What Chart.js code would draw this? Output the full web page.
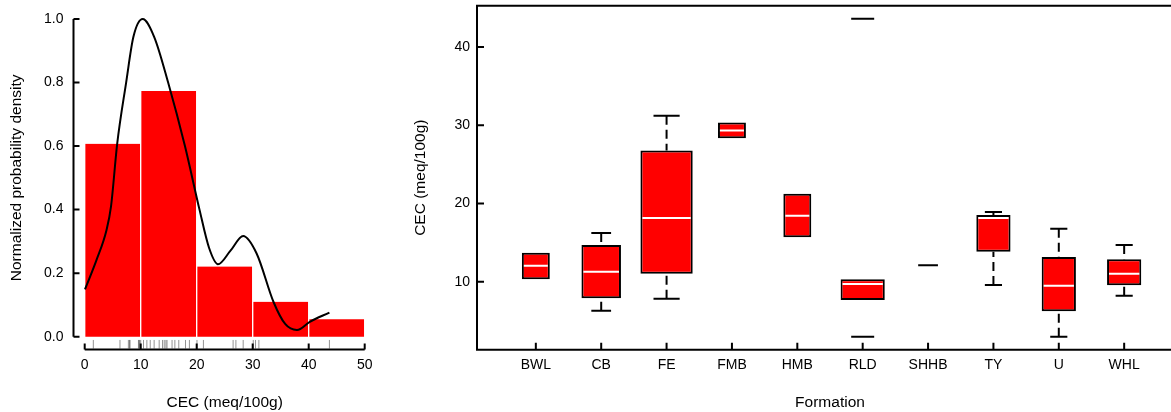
<!DOCTYPE html>
<html>
<head>
<meta charset="utf-8">
<script src="https://cdn.jsdelivr.net/npm/chart.js@4.4.0/dist/chart.umd.min.js"></script>
<style>
  html, body { margin: 0; padding: 0; background: #fff; overflow: hidden; }
  #histWrap { position: absolute; left: 0; top: 0; }
  #boxWrap { position: absolute; left: 385px; top: 0; }
</style>
</head>
<body>
<div id="histWrap"><canvas id="histChart" width="385" height="412"></canvas></div>
<div id="boxWrap"><canvas id="boxChart" width="810" height="412"></canvas></div>
<script>
// --- left panel: histogram of CEC (bins of 10) ---
const binMids = [5, 15, 25, 35, 45];
const binDensity = [0.607, 0.773, 0.221, 0.110, 0.055];

// kernel density curve (peak normalised to 1)
const densityX = [0.05, 2.1, 3.9, 4.7, 5.8, 7.4, 8.7, 10.35, 12.4, 14.9, 17.9, 20.5, 22.2, 23.8, 26.0, 28.3, 30.7, 33.7, 35.8, 37.9, 40.2, 43.7];
const densityY = [0.149, 0.241, 0.336, 0.41, 0.607, 0.80, 0.944, 1.0, 0.944, 0.80, 0.60, 0.40, 0.28, 0.228, 0.27, 0.317, 0.262, 0.11, 0.04, 0.021, 0.047, 0.076];

// individual samples (rug)
const rugValues = [1.54, 6.3, 7.8, 8.0, 8.1, 9.6, 9.7, 9.8, 10.0, 10.5, 11.1, 11.7, 12.4, 13.3, 13.9, 14.2, 14.5, 14.7,
  15.6, 16.1, 16.8, 18.0, 18.7, 20.05, 21.2, 26.5, 27.0, 28.3, 30.1, 30.5, 31.1, 43.7];

const histXTicks = [0, 10, 20, 30, 40, 50];
const histYTicks = [0, 0.2, 0.4, 0.6, 0.8, 1.0];

// --- right panel: CEC by formation ---
const formations = ['BWL', 'CB', 'FE', 'FMB', 'HMB', 'RLD', 'SHHB', 'TY', 'U', 'WHL'];
const sampleCount = [2, 4, 7, 2, 2, 5, 1, 3, 3, 3];
const whiskerLow  = [10.3, 6.30, 7.83, 28.35, 15.67, 7.66, 12.1, 9.58, 2.98, 8.21];
const boxLow      = [10.3, 7.88, 11.02, 28.35, 15.67, 7.66, 12.1, 13.83, 6.22, 9.54];
const medians     = [12.04, 11.28, 18.14, 29.34, 18.43, 9.71, 12.1, 18.14, 9.49, 11.02];
const boxHigh     = [13.7, 14.69, 26.78, 30.36, 21.24, 10.3, 12.1, 18.52, 13.15, 12.86];
const whiskerHigh = [13.7, 16.22, 31.2, 30.36, 21.24, 10.3, 12.1, 18.9, 16.77, 14.69];
const outlierGroup = ['RLD', 'RLD'];
const outlierValues = [43.6, 2.98];
const boxYTicks = [10, 20, 30, 40];

Chart.defaults.font.family = '"Liberation Sans", Arial, sans-serif';
Chart.defaults.color = '#000';
Chart.defaults.animation = false;

// R-style axes: lines + inward ticks
const axisFrame = {
  id: 'axisFrame',
  afterDatasetsDraw(chart, args, opts) {
    const { ctx, chartArea: a, scales: { x, y } } = chart;
    ctx.save();
    ctx.strokeStyle = '#000';
    ctx.lineWidth = 2;
    ctx.beginPath();
    if (opts.box) {
      ctx.rect(a.left, a.top, a.right - a.left, a.bottom - a.top);
    } else {
      const xt = x.ticks, yt = y.ticks;
      ctx.moveTo(x.getPixelForValue(xt[0].value), a.bottom);
      ctx.lineTo(x.getPixelForValue(xt[xt.length - 1].value), a.bottom);
      ctx.moveTo(a.left, y.getPixelForValue(yt[0].value));
      ctx.lineTo(a.left, y.getPixelForValue(yt[yt.length - 1].value));
    }
    x.ticks.forEach(t => {
      const px = x.getPixelForValue(t.value);
      ctx.moveTo(px, a.bottom);
      ctx.lineTo(px, a.bottom - opts.tick);
    });
    y.ticks.forEach(t => {
      const py = y.getPixelForValue(t.value);
      ctx.moveTo(a.left, py);
      ctx.lineTo(a.left + opts.tick, py);
    });
    ctx.stroke();
    ctx.restore();
  }
};

const tickFont = { size: 14 };
const titleFont = { size: 15.5 };

// fixed plot margins, no label padding
const fixWidth = w => s => { s.width = w; s.paddingTop = 0; s.paddingBottom = 0; };
const fixHeight = h => s => { s.height = h; s.paddingLeft = 0; s.paddingRight = 0; };

// ---------- histogram ----------
const histYMin = -0.04, histYMax = 1.04;
const rugY = histYMin + 0.03 * (histYMax - histYMin) / 2;

new Chart(document.getElementById('histChart'), {
  type: 'bar',
  data: {
    datasets: [
      {
        type: 'line',
        data: densityX.map((x, i) => ({ x, y: densityY[i] })),
        borderColor: '#000',
        borderWidth: 2,
        pointRadius: 0,
        cubicInterpolationMode: 'monotone',
        fill: false
      },
      {
        type: 'scatter',
        data: rugValues.map(x => ({ x, y: rugY })),
        pointStyle: 'line',
        rotation: 90,
        radius: 4.3,
        borderWidth: 1,
        borderColor: 'rgba(60,60,60,0.55)'
      },
      {
        type: 'bar',
        data: binMids.map((x, i) => ({ x, y: binDensity[i] })),
        backgroundColor: '#ff0000',
        borderColor: '#ffffff',
        borderWidth: { left: 1, right: 1, top: 0, bottom: 0 },
        borderSkipped: false,
        barPercentage: 1,
        categoryPercentage: 1
      }
    ]
  },
  options: {
    responsive: false,
    layout: { autoPadding: false, padding: { top: 6.3, right: 9.1, left: 0, bottom: 0 } },
    plugins: { legend: { display: false }, tooltip: { enabled: false }, axisFrame: { box: false, tick: 6 } },
    scales: {
      x: {
        type: 'linear', min: -2, max: 52, offset: false,
        grid: { display: false, drawTicks: false }, border: { display: false },
        afterBuildTicks: s => { s.ticks = histXTicks.map(v => ({ value: v })); },
        afterFit: fixHeight(62.6),
        ticks: { font: tickFont, padding: 7, maxRotation: 0, callback: v => String(v) },
        title: { display: true, text: 'CEC (meq/100g)', font: titleFont, padding: { top: 0, bottom: 0 } }
      },
      y: {
        type: 'linear', min: histYMin, max: histYMax,
        grid: { display: false, drawTicks: false }, border: { display: false },
        afterBuildTicks: s => { s.ticks = histYTicks.map(v => ({ value: v })); },
        afterFit: fixWidth(73.5),
        ticks: { font: tickFont, padding: 10, callback: v => v.toFixed(1) },
        title: { display: true, text: 'Normalized probability density', font: titleFont, padding: { top: 7.4, bottom: 0 } }
      }
    }
  },
  plugins: [axisFrame]
});

// ---------- boxplot ----------
const maxN = Math.max(...sampleCount);
const boxFrac = sampleCount.map(n => 0.8 * Math.sqrt(n / maxN)); // varwidth boxes

const medianPts = [], flatPts = [], capPts = [], whiskerPts = [];
formations.forEach((f, i) => {
  const c = i + 1, hw = boxFrac[i] / 2;
  if (boxLow[i] === boxHigh[i]) {
    flatPts.push({ x: c - hw, y: medians[i] }, { x: c + hw, y: medians[i] }, { x: c, y: null });
  } else {
    medianPts.push({ x: c - hw + 0.03, y: medians[i] }, { x: c + hw - 0.03, y: medians[i] }, { x: c, y: null });
  }
  [[whiskerLow[i], boxLow[i]], [whiskerHigh[i], boxHigh[i]]].forEach(([end, hinge]) => {
    if (end === hinge) return;
    whiskerPts.push({ x: c, y: end }, { x: c, y: hinge }, { x: c, y: null });
    capPts.push({ x: c - hw / 2, y: end }, { x: c + hw / 2, y: end }, { x: c, y: null });
  });
});

const boxSets = [];
formations.forEach((f, i) => {
  if (boxLow[i] === boxHigh[i]) return;
  boxSets.push({
    type: 'bar',
    data: [{ x: i + 1, y: [boxLow[i], boxHigh[i]] }],
    backgroundColor: '#ff0000',
    borderColor: '#000',
    borderWidth: 2,
    borderSkipped: false,
    grouped: false,
    barPercentage: boxFrac[i],
    categoryPercentage: 1
  });
});

const lineSet = (data, color, dash) => ({
  type: 'line', data, borderColor: color, borderWidth: 2, borderDash: dash || [],
  pointRadius: 0, spanGaps: false, tension: 0, fill: false
});

new Chart(document.getElementById('boxChart'), {
  type: 'bar',
  data: {
    datasets: [
      {
        type: 'scatter',
        data: outlierValues.map((v, i) => ({ x: formations.indexOf(outlierGroup[i]) + 1, y: v })),
        pointStyle: 'line',
        radius: 11.5,
        borderWidth: 2,
        borderColor: '#000'
      },
      lineSet(medianPts, '#ffffff'),
      lineSet(flatPts, '#000'),
      lineSet(capPts, '#000'),
      lineSet(whiskerPts, '#000', [9, 5]),
      ...boxSets
    ]
  },
  options: {
    responsive: false,
    layout: { autoPadding: false, padding: { top: 5.7, right: 12, left: 0, bottom: 0 } },
    plugins: { legend: { display: false }, tooltip: { enabled: false }, axisFrame: { box: true, tick: 7 } },
    scales: {
      x: {
        type: 'linear', min: 0.1, max: 10.9, offset: false,
        grid: { display: false, drawTicks: false }, border: { display: false },
        afterBuildTicks: s => { s.ticks = formations.map((f, i) => ({ value: i + 1 })); },
        afterFit: fixHeight(62.3),
        ticks: { font: tickFont, padding: 7, maxRotation: 0, autoSkip: false, callback: v => formations[v - 1] },
        title: { display: true, text: 'Formation', font: titleFont, padding: { top: 0, bottom: 0 } }
      },
      y: {
        type: 'linear', min: 1.31, max: 45.28,
        grid: { display: false, drawTicks: false }, border: { display: false },
        afterBuildTicks: s => { s.ticks = boxYTicks.map(v => ({ value: v })); },
        afterFit: fixWidth(92),
        ticks: { font: tickFont, padding: 7, callback: v => String(v) },
        title: { display: true, text: 'CEC (meq/100g)', font: titleFont, padding: { top: 26.4, bottom: 0 } }
      }
    }
  },
  plugins: [axisFrame]
});
</script>
</body>
</html>
